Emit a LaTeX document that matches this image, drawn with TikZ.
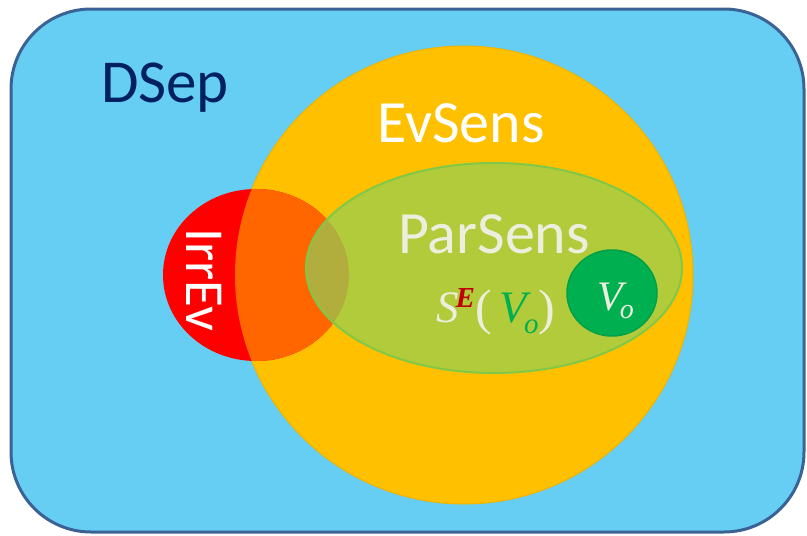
\documentclass[tikz,border=0pt]{standalone}
\usepackage{fontspec}
\setmainfont{Carlito}
\newfontfamily\serifmath{Liberation Serif}
\definecolor{skyfill}{RGB}{102,206,242}
\definecolor{frameblue}{RGB}{59,98,148}
\definecolor{orangefill}{RGB}{255,192,0}
\definecolor{orangeedge}{RGB}{240,180,0}
\definecolor{redorange}{RGB}{255,102,0}
\definecolor{greenfill}{RGB}{178,203,58}
\definecolor{greenedge}{RGB}{128,200,72}
\definecolor{olivefill}{RGB}{178,174,62}
\definecolor{vofill}{RGB}{0,176,80}
\definecolor{voedge}{RGB}{0,160,72}
\definecolor{paletext}{RGB}{238,238,222}
\definecolor{navytext}{RGB}{0,32,96}
\definecolor{darkredtext}{RGB}{192,0,0}
\begin{document}
\begin{tikzpicture}[x=1pt,y=-1pt,
  label60/.style={inner sep=0pt, anchor=base, font=\fontsize{60}{61}\selectfont},
  mathlabel/.style={inner sep=0pt, anchor=base west, font=\serifmath\fontsize{45}{45}\selectfont}]
\useasboundingbox (0,0) rectangle (807,536);
% outer set DSep
\draw[line width=3pt, draw=frameblue, fill=skyfill, rounded corners=80pt] (11,9) rectangle (804,532);
% EvSens
\draw[fill=orangefill, draw=orangeedge, line width=1pt] (464,275) circle [radius=229pt];
% IrrEv
\fill[red] (256,275) ellipse [x radius=93pt, y radius=86pt];
\begin{scope}
  \clip (464,275) circle [radius=229pt];
  \fill[redorange] (256,275) ellipse [x radius=93pt, y radius=86pt];
\end{scope}
% ParSens
\fill[greenfill] (494,268) ellipse [x radius=188pt, y radius=105pt];
\begin{scope}
  \clip (256,275) ellipse [x radius=93pt, y radius=86pt];
  \fill[olivefill] (494,268) ellipse [x radius=188pt, y radius=105pt];
\end{scope}
\draw[draw=greenedge, line width=2pt] (494,268) ellipse [x radius=188pt, y radius=105pt];
% V_o
\draw[fill=vofill, draw=voedge, line width=1.5pt] (612,293) ellipse [x radius=45pt, y radius=43pt];
% labels
\node[label60, text=navytext, font=\fontsize{61}{62}\selectfont] (dsep) at (165,102) {DSep};
\node[label60, text=white] (evsens) at (461,142) {EvSens};
\node[label60, text=paletext] (parsens) at (494,253) {ParSens};
\node[label60, text=white, rotate=-90, font=\fontsize{55}{56}\selectfont] (irrev) at (186,280) {IrrEv};
% S^E(V_o)
\node[mathlabel, text=paletext] (sev) at (436,322)
  {\itshape S\kern-3pt\raisebox{15pt}{\fontsize{29}{29}\selectfont\bfseries\itshape\color{darkredtext}E}\upshape\raisebox{-2pt}{\fontsize{50}{50}\selectfont(}\kern8pt\itshape\color{vofill}V\kern-3pt\raisebox{-11pt}{\fontsize{29}{29}\selectfont o}\upshape\color{paletext}\raisebox{-2pt}{\fontsize{50}{50}\selectfont)}};
% V_o label
\node[inner sep=0pt, anchor=base west, text=paletext, font=\serifmath\itshape\fontsize{42}{42}\selectfont] (vlabel) at (597,310)
  {V\kern-3pt\raisebox{-8pt}{\fontsize{28}{28}\selectfont o}};
\end{tikzpicture}
\end{document}
